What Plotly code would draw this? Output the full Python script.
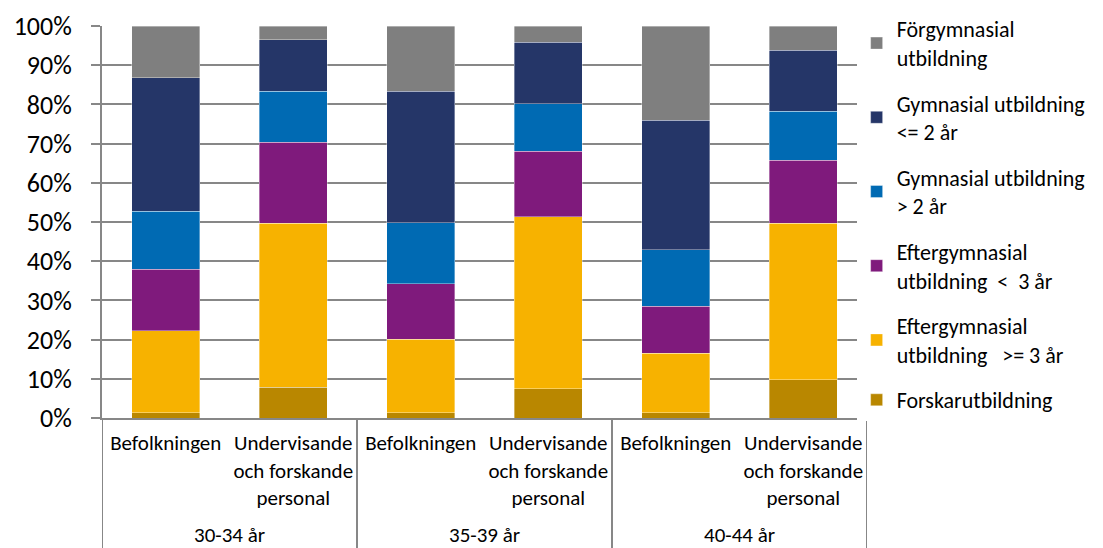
import plotly.graph_objects as go

# Age groups and staff categories
groups = ["30-34 år", "35-39 år", "40-44 år"]
subgroups = ["Befolkningen", "Undervisande<br>och forskande<br>personal"]

# Education levels, bottom of stack first
levels = [
    "Forskarutbildning",
    "Eftergymnasial<br>utbildning   >= 3 år",
    "Eftergymnasial<br>utbildning  <  3 år",
    "Gymnasial utbildning<br>> 2 år",
    "Gymnasial utbildning<br><= 2 år",
    "Förgymnasial<br>utbildning",
]
colors = ["#b98700", "#f7b200", "#7f1a7c", "#006ab3", "#253668", "#7f7f7f"]

# Shares (%) per bar: 30-34 Bef, 30-34 Und, 35-39 Bef, 35-39 Und, 40-44 Bef, 40-44 Und
forskar = [1.4, 7.8, 1.4, 7.4, 1.3, 9.8]
eftergym_3plus = [20.8, 41.9, 18.7, 44.0, 15.2, 39.9]
eftergym_under3 = [15.7, 20.6, 14.1, 16.6, 12.0, 16.0]
gym_over2 = [14.8, 13.1, 15.6, 12.2, 14.4, 12.6]
gym_upto2 = [34.1, 13.1, 33.5, 15.6, 33.0, 15.5]
forgym = [13.2, 3.5, 16.7, 4.2, 24.1, 6.2]

series = [forskar, eftergym_3plus, eftergym_under3, gym_over2, gym_upto2, forgym]

# one unique category per bar, shown with the subgroup label only
x_keys = [g + " / " + s for g in groups for s in subgroups]
x_text = [s for _ in groups for s in subgroups]

fig = go.Figure()
for k in range(len(levels)):
    fig.add_trace(go.Bar(
        x=x_keys,
        y=series[k],
        name=levels[k],
        legendgroup=str(k),
        legendrank=100 * (len(levels) - k),  # top of stack first in legend
        marker=dict(color=colors[k], line=dict(color="rgba(255,255,255,0.45)", width=0.8)),
    ))

grey = "#878787"
n_sub = len(subgroups)

# group labels under each pair of bars, and divider lines between the groups
for i, g in enumerate(groups):
    fig.add_annotation(
        x=i * n_sub + (n_sub - 1) / 2, xref="x",
        y=-0.298, yref="paper", yanchor="middle",
        text=g, showarrow=False, font=dict(size=21),
    )
for i in range(len(groups) + 1):
    fig.add_shape(
        type="line", xref="x", yref="paper",
        x0=i * n_sub - 0.5, x1=i * n_sub - 0.5, y0=0, y1=-0.36,
        line=dict(color=grey, width=2),
    )

font_family = "Carlito, Calibri, Lato, sans-serif"

# page body has an 8px margin, so the figure is a bit smaller than the window
fig.update_layout(
    width=1095, height=540,
    barmode="stack", bargap=0.466,
    plot_bgcolor="white", paper_bgcolor="white",
    margin=dict(l=94, r=236, t=18, b=130, autoexpand=False),
    font=dict(family=font_family, size=21, color="black"),
    legend=dict(
        traceorder="grouped", tracegroupgap=14,
        xref="container", yref="container",
        x=0.775, xanchor="left", y=1.0, yanchor="top",
        font=dict(size=22), maxheight=540,
    ),
)
fig.update_yaxes(
    range=[0, 100], dtick=10, ticksuffix="%",
    gridcolor=grey, gridwidth=2,
    showline=True, linecolor=grey, linewidth=2,
    ticks="outside", ticklen=9, tickcolor=grey, tickwidth=2,
    tickfont=dict(size=26), ticklabelstandoff=14,
    zeroline=False, automargin=False,
)
fig.update_xaxes(
    type="category", tickvals=x_keys, ticktext=x_text,
    range=[-0.5, len(x_keys) - 0.5],
    showline=True, linecolor=grey, linewidth=2,
    tickfont=dict(size=21), tickangle=0, ticklabelstandoff=5,
    automargin=False,
)

fig.write_html("out.html")
